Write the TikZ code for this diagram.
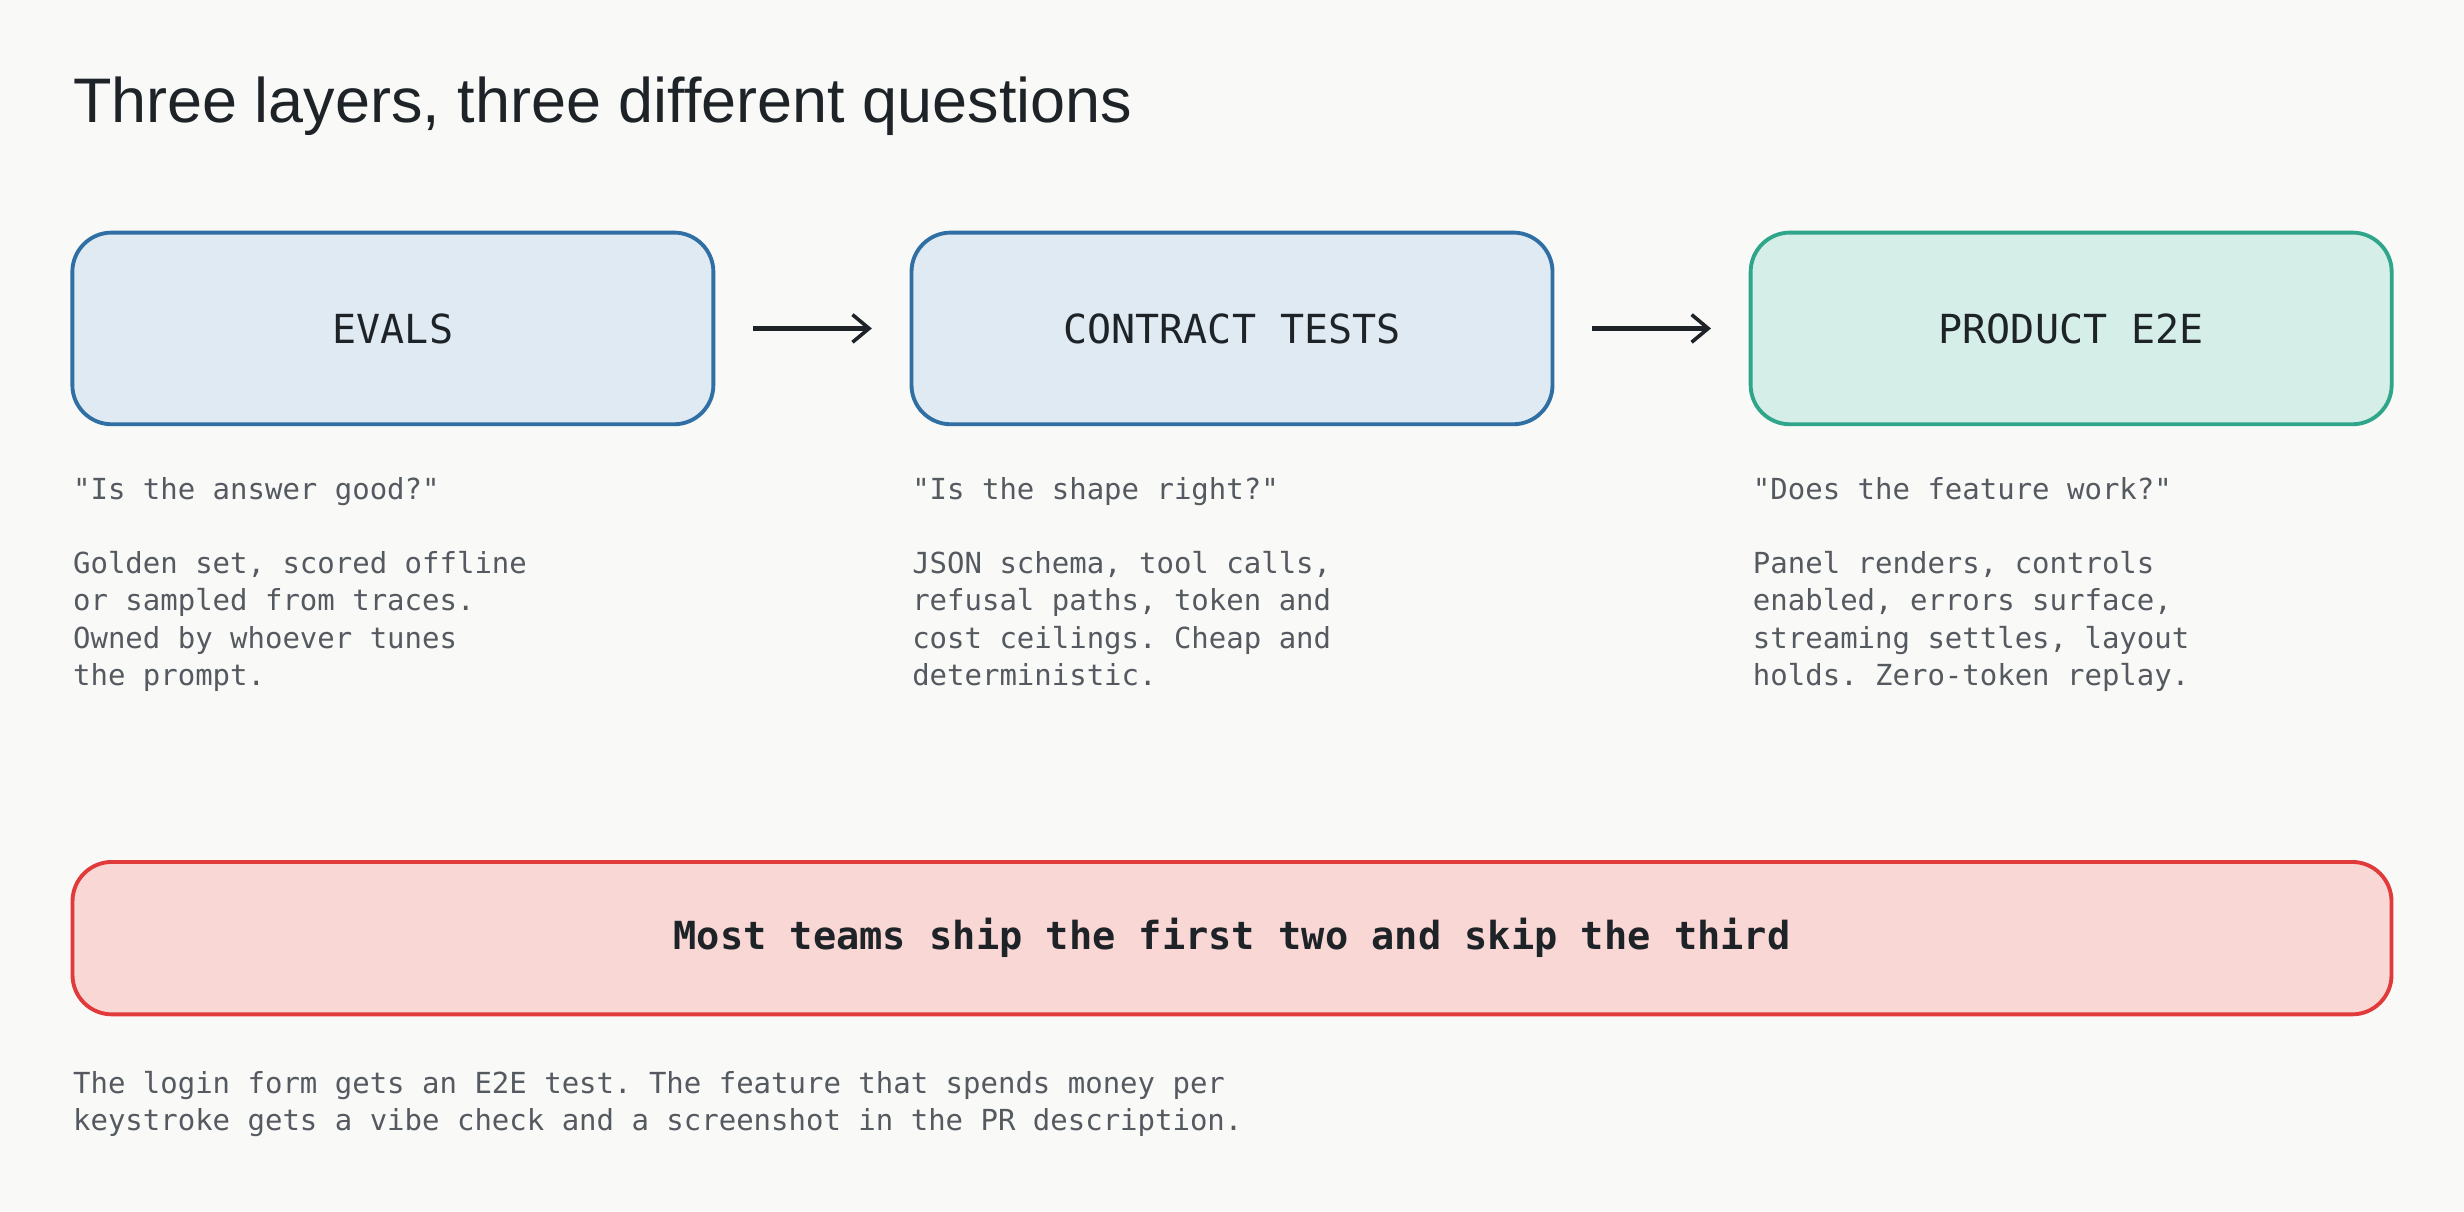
\documentclass[tikz,border=0pt]{standalone}
\usepackage{fontspec}
\setmainfont{Liberation Sans}
\setmonofont{DejaVu Sans Mono}
\usetikzlibrary{positioning, arrows.meta}
\definecolor{bgc}{HTML}{F9F9F7}
\definecolor{bluel}{HTML}{2F6FA3}
\definecolor{bluef}{HTML}{E0EAF3}
\definecolor{greenl}{HTML}{2FA58A}
\definecolor{greenf}{HTML}{D5EFE8}
\definecolor{redl}{HTML}{E03A3A}
\definecolor{redf}{HTML}{F8D7D5}
\definecolor{ink}{HTML}{1E2328}
\definecolor{note}{HTML}{555A60}
\begin{document}
\begin{tikzpicture}[x=0.02cm, y=-0.02cm, semithick]
\tikzset{layer/.style={draw, line width=1.4pt, rounded corners=0.5cm,
                       minimum width=8.16cm, minimum height=2.44cm,
                       font=\ttfamily\fontsize{14.5}{16}\selectfont, text=ink},
         blue layer/.style={layer, draw=bluel, fill=bluef},
         green layer/.style={layer, draw=greenl, fill=greenf},
         remark/.style={anchor=north west, inner sep=0pt, align=left, text=note,
                        font=\ttfamily\fontsize{10.5}{13.6}\selectfont},
         flow/.style={-{Straight Barb[length=6pt, width=10pt, line width=1.3pt]},
                      line width=1.5pt, draw=ink}}
\fill[bgc] (0,0) rectangle (1568,771);
\node[anchor=base west, inner sep=0pt, text=ink, font=\fontsize{22.8}{26}\selectfont]
  (title) at (46,78) {Three layers, three different questions};
\node[blue layer]  (evals)    at (250,209)  {EVALS};
\node[blue layer]  (contract) at (784,209)  {CONTRACT TESTS};
\node[green layer] (product)  at (1318,209) {PRODUCT E2E};
\draw[flow] ([xshift=0.48cm]evals.east)    -- ([xshift=-0.48cm]contract.west);
\draw[flow] ([xshift=0.48cm]contract.east) -- ([xshift=-0.48cm]product.west);
% questions and notes
\node[remark] (q1) at (46,303)   {"Is the answer good?"};
\node[remark] (q2) at (580,303)  {"Is the shape right?"};
\node[remark] (q3) at (1115,303) {"Does the feature work?"};
\node[remark] (n1) at (46,350)   {Golden set, scored offline\\or sampled from traces.\\Owned by whoever tunes\\the prompt.};
\node[remark] (n2) at (580,350)  {JSON schema, tool calls,\\refusal paths, token and\\cost ceilings. Cheap and\\deterministic.};
\node[remark] (n3) at (1115,350) {Panel renders, controls\\enabled, errors surface,\\streaming settles, layout\\holds. Zero-token replay.};
\node[layer, draw=redl, fill=redf, minimum width=29.52cm, minimum height=1.94cm,
      font=\ttfamily\bfseries\fontsize{14}{16}\selectfont]
  (gap) at (784,597) {Most teams ship the first two and skip the third};
\node[remark] (n4) at (46,681) {The login form gets an E2E test. The feature that spends money per\\keystroke gets a vibe check and a screenshot in the PR description.};
\end{tikzpicture}
\end{document}
